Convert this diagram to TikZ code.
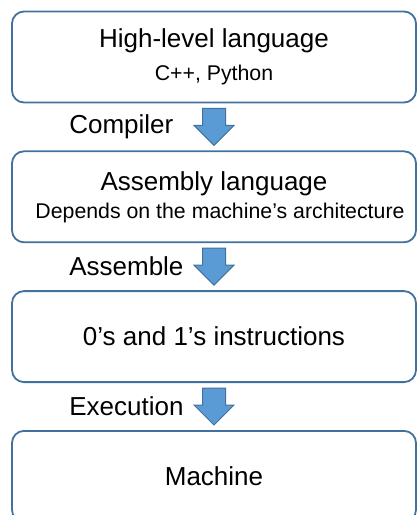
\documentclass[tikz,border=0pt]{standalone}
\usepackage{fontspec}
\setmainfont{Liberation Sans}
\usepackage{tikz}
\usetikzlibrary{positioning,calc}
\definecolor{stepedge}{HTML}{41719C}
\definecolor{stepfill}{HTML}{5B9BD5}
\tikzset{
  stage/.style={draw=stepedge, line width=1.8pt, fill=white, rounded corners=12pt,
                align=center, minimum width=404pt, minimum height=91pt,
                inner sep=0pt, font=\fontsize{26}{31}\selectfont},
  down/.style={fill=stepfill, draw=stepedge, line width=1pt, line join=miter},
  blockdown/.pic={\draw[down] (-11.5,18.5) -- (11.5,18.5) -- (11.5,1.5) -- (20,1.5)
                   -- (0,-18.5) -- (-20,1.5) -- (-11.5,1.5) -- cycle;},
  lbl/.style={anchor=west, inner sep=0pt, font=\fontsize{26}{31}\selectfont},
}
\newcommand{\subtxt}{\fontsize{21.3}{25}\selectfont}
\begin{document}
\begin{tikzpicture}[x=1pt, y=1pt, node distance=47pt]
\useasboundingbox (0,0) rectangle (416,-515);
\node[stage] (high) at (214,-57) {High-level language\\[2pt]{\subtxt C++, Python}};
\node[stage, below=of high] (asm) {Assembly language\\[-3pt]{\subtxt\hspace*{12pt}Depends on the machine’s architecture}};
\node[stage, below=of asm] (bits) {0’s and 1’s instructions};
\node[stage, below=of bits] (mach) {Machine};
% block arrows between the stages
\coordinate (a1) at ($(high.south)!0.5!(asm.north)$);
\coordinate (a2) at ($(asm.south)!0.5!(bits.north)$);
\coordinate (a3) at ($(bits.south)!0.5!(mach.north)$);
\pic at (a1) {blockdown};
\pic at (a2) {blockdown};
\pic at (a3) {blockdown};
\node[lbl] (comp) at ([xshift=58pt]high.west |- a1) {Compiler};
\node[lbl] (assem) at ([xshift=58pt]asm.west |- a2) {Assemble};
\node[lbl] (exec) at ([xshift=58pt]bits.west |- a3) {Execution};
\end{tikzpicture}
\end{document}
